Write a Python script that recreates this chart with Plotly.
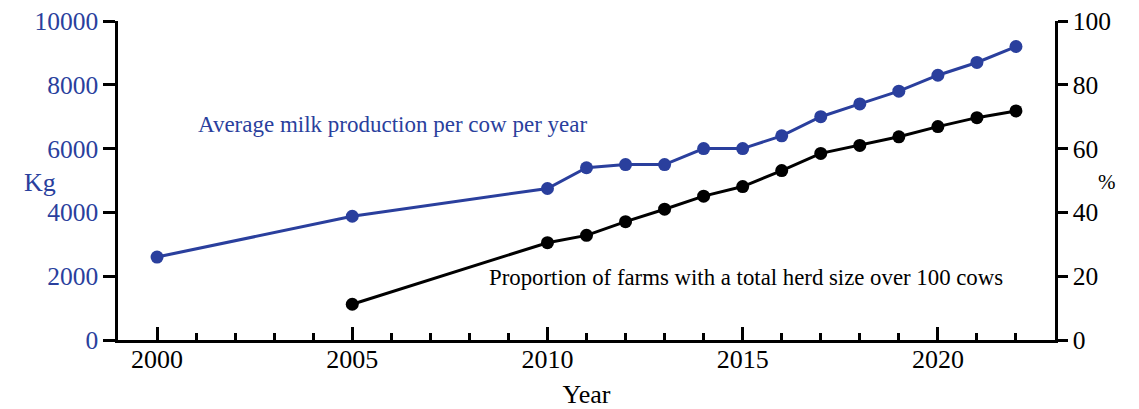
import plotly.graph_objects as go

years_milk = [2000, 2005, 2010, 2011, 2012, 2013, 2014, 2015, 2016, 2017, 2018, 2019, 2020, 2021, 2022]
milk_kg = [2600, 3880, 4750, 5400, 5500, 5500, 6000, 6000, 6400, 7000, 7400, 7800, 8300, 8700, 9200]

years_farms = [2005, 2010, 2011, 2012, 2013, 2014, 2015, 2016, 2017, 2018, 2019, 2020, 2021, 2022]
farms_pct = [11.2, 30.5, 32.8, 37.1, 41.0, 45.1, 48.1, 53.1, 58.5, 61.0, 63.7, 66.9, 69.7, 71.8]

x_ticks = [2000, 2005, 2010, 2015, 2020]
y_left_ticks = [0, 2000, 4000, 6000, 8000, 10000]
y_left_labels = ["0", "2000", "4000", "6000", "8000", "10000"]
y_right_ticks = [0, 20, 40, 60, 80, 100]

BLUE = "#2a3f9d"
FONT = "Liberation Serif"

# page has an 8px body margin; figure sized to fit the window
W, H = 1131, 401
L, R, T, B = 110, 84, 13, 69
OFF = 8
pw = W - L - R
ph = H - T - B


def px_to_paper(px, py):
    return (px - OFF - L) / pw, (OFF + H - B - py) / ph


fig = go.Figure()
fig.add_trace(go.Scatter(
    x=years_milk, y=milk_kg, mode="lines+markers",
    line=dict(color=BLUE, width=3), marker=dict(color=BLUE, size=13),
    yaxis="y", showlegend=False, cliponaxis=False))
fig.add_trace(go.Scatter(
    x=years_farms, y=farms_pct, mode="lines+markers",
    line=dict(color="black", width=3), marker=dict(color="black", size=13),
    yaxis="y2", showlegend=False, cliponaxis=False))

kx, ky = px_to_paper(22, 182)
px_, py_ = px_to_paper(1118, 182)

fig.update_layout(
    width=W, height=H,
    margin=dict(l=L, r=R, t=T, b=B),
    plot_bgcolor="white", paper_bgcolor="white",
    font=dict(family=FONT, size=26, color="black"),
    xaxis=dict(
        range=[1999, 2023], tickvals=x_ticks, ticks="inside", ticklen=13, tickwidth=2.5,
        tickcolor="black", showline=True, linecolor="black", linewidth=2.5,
        showgrid=False, zeroline=False, automargin=False, ticklabelstandoff=-6,
        minor=dict(dtick=1, tick0=2000, ticks="inside", ticklen=7, tickwidth=2.5, tickcolor="black", showgrid=False),
        tickfont=dict(family=FONT, size=26, color="black"),
        title=dict(text="Year", font=dict(family=FONT, size=26, color="black"), standoff=13),
    ),
    yaxis=dict(
        range=[0, 10000], tickvals=y_left_ticks, ticktext=y_left_labels, ticks="outside", ticklen=12, tickwidth=2.5,
        tickcolor="black", showline=True, linecolor="black", linewidth=2.5,
        showgrid=False, zeroline=False, automargin=False, ticklabeloverflow="allow",
        tickfont=dict(family=FONT, size=25.5, color=BLUE),
    ),
    yaxis2=dict(
        range=[0, 100], tickvals=y_right_ticks, ticks="outside", ticklen=10, tickwidth=2.5,
        tickcolor="black", showline=True, linecolor="black", linewidth=2.5,
        showgrid=False, zeroline=False, overlaying="y", side="right", automargin=False,
        ticklabeloverflow="allow",
        tickfont=dict(family=FONT, size=25.5, color="black"),
    ),
    annotations=[
        dict(text="Average milk production per cow per year", x=2001.0, y=6740, xref="x", yref="y",
             xanchor="left", yanchor="middle", showarrow=False,
             font=dict(family=FONT, size=23, color=BLUE)),
        dict(text="Proportion of farms with a total herd size over 100 cows", x=2008.44, y=1975,
             xref="x", yref="y", xanchor="left", yanchor="middle", showarrow=False,
             font=dict(family=FONT, size=22.8, color="black")),
        dict(text="Kg", x=kx, y=ky, xref="paper", yref="paper", showarrow=False,
             font=dict(family=FONT, size=26, color=BLUE)),
        dict(text="%", x=px_, y=py_, xref="paper", yref="paper", showarrow=False,
             font=dict(family=FONT, size=21, color="black")),
    ],
)

gx0, gy0 = px_to_paper(1131, 409)
gx1, gy1 = px_to_paper(1137, 305)
fig.add_shape(type="rect", xref="paper", yref="paper",
              x0=gx0, x1=gx1, y0=gy0, y1=gy1,
              fillcolor="#c4c4c4", line=dict(width=0), layer="above")

fig.write_html("out.html")
